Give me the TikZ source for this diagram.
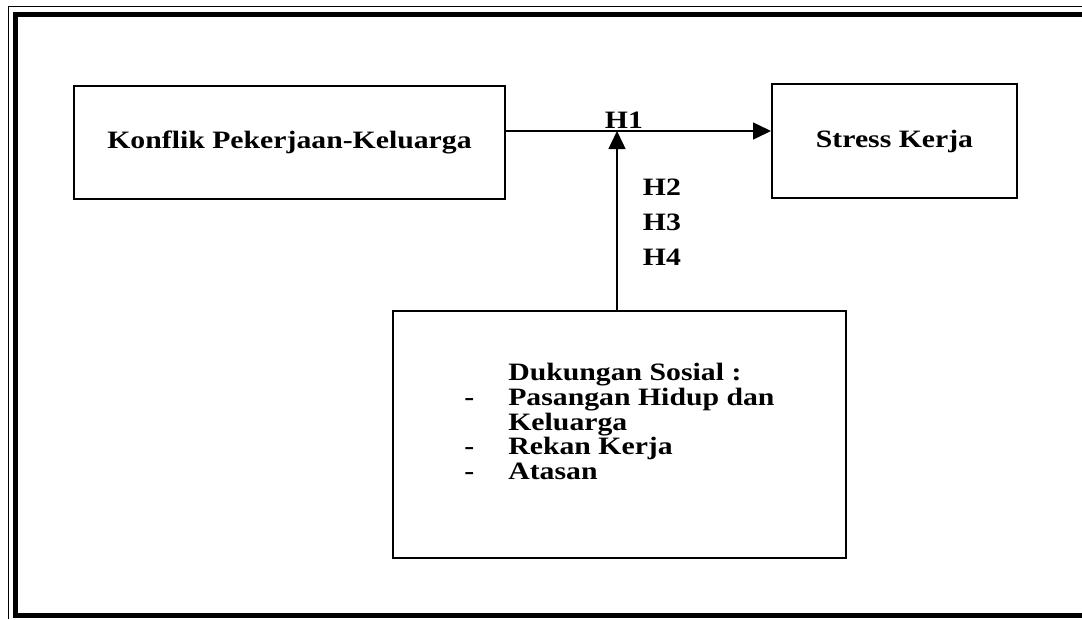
\documentclass[tikz,border=0pt]{standalone}
\usepackage{fontspec}
\setmainfont[FakeStretch=1.19]{Liberation Serif}
\usetikzlibrary{arrows.meta}
\tikzset{box/.style={draw, line width=2pt, inner sep=0pt, font=\fontsize{25}{24.5}\selectfont\bfseries},
  conn/.style={line width=1.5pt, -{Triangle[length=18pt,width=17pt]}},
  hlabel/.style={font=\fontsize{25}{35}\selectfont\bfseries, inner sep=0pt, align=left}}

\begin{document}
\begin{tikzpicture}[x=1pt,y=-1pt]
  \useasboundingbox (0,0) rectangle (1082,619);

  % frame
  \draw[line width=1pt] (1082,6) -- (8,6) -- (8,619);
  \draw[line width=5pt] (1082,14) -- (15,14) -- (15,615) -- (1082,615);

  \node[box, minimum width=431pt, minimum height=113pt] (konflik) at (289.5,142.5) {Konflik Pekerjaan-Keluarga};
  \node[box, minimum width=245pt, minimum height=114pt] (stress) at (894.5,141) {Stress Kerja};
  \node[box, minimum width=453pt, minimum height=247pt] (sosial) at (619.5,434.5)
    {\begin{tabular}{@{}l@{\hspace{34pt}}l@{}}
       & Dukungan Sosial :\\
     - & Pasangan Hidup dan\\
       & Keluarga\\
     - & Rekan Kerja\\
     - & Atasan\\[19pt]
     \end{tabular}};

  \coordinate (h1) at (617,131);
  \draw[conn] (konflik.east |- h1) -- (stress.west |- h1);
  \draw[conn] (sosial.north -| h1) -- (h1);

  \node[hlabel, anchor=base] (hone) at (624,128) {H1};
  \node[hlabel] (hrest) at (662,222) {H2\\H3\\H4};
\end{tikzpicture}
\end{document}
